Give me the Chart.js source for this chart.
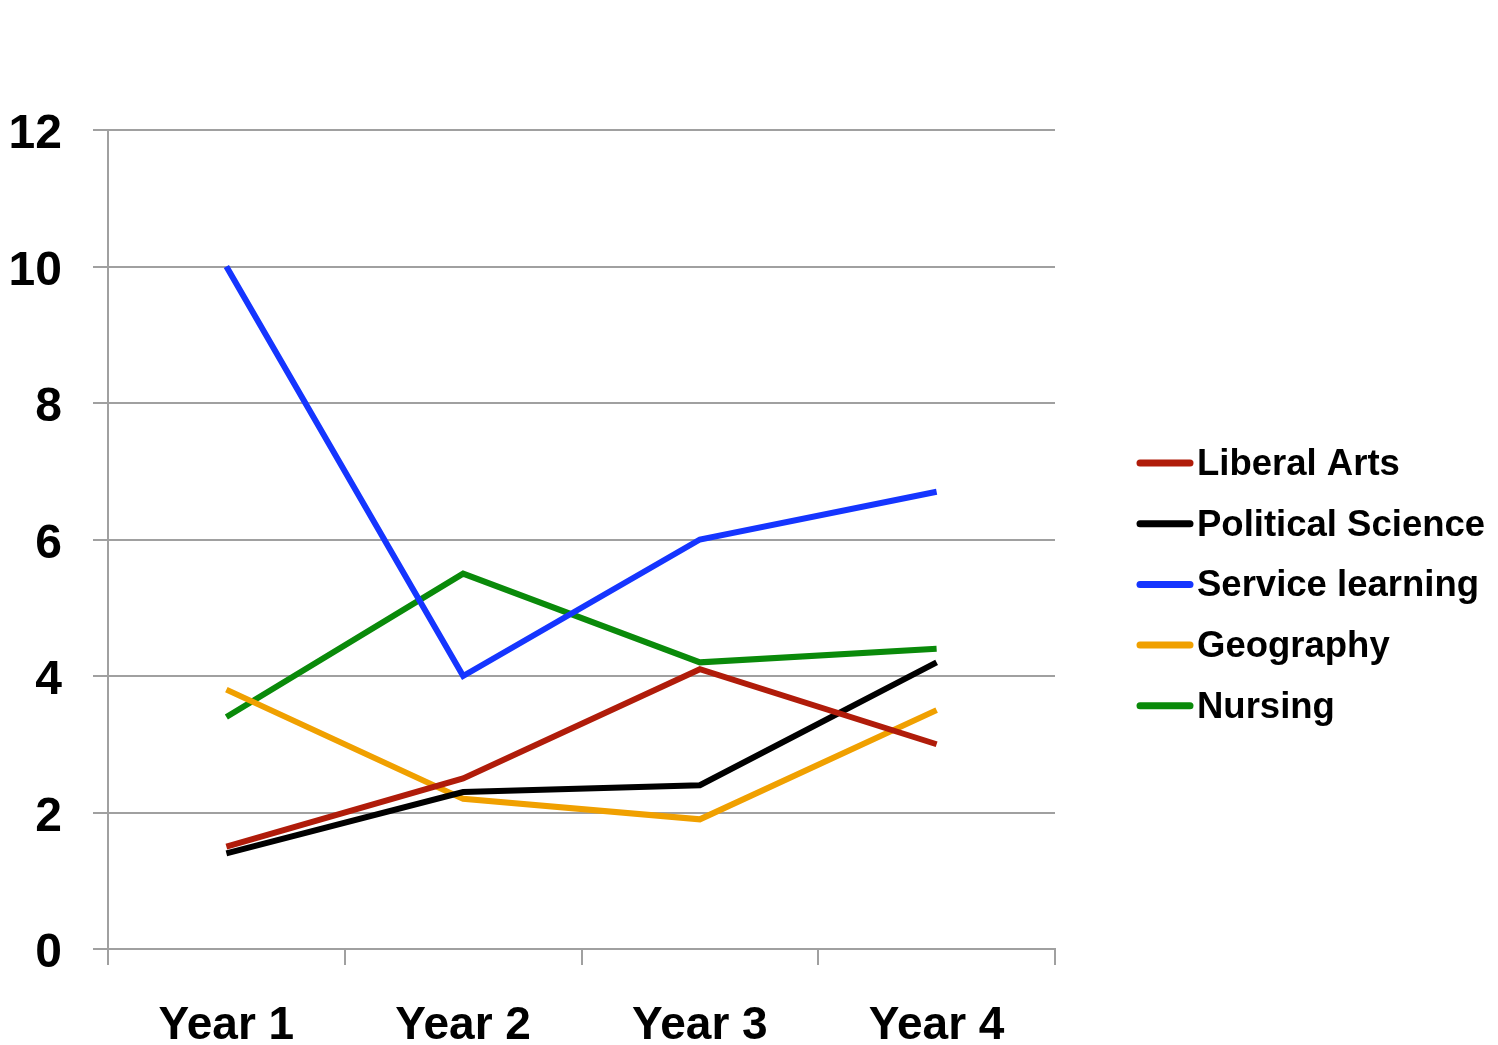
<!DOCTYPE html>
<html>
<head>
<meta charset="utf-8">
<script src="https://cdn.jsdelivr.net/npm/chart.js@4.4.0/dist/chart.umd.min.js"></script>
<style>
  html, body { margin: 0; padding: 0; background: #fff; }
  #wrap { width: 1498px; height: 1045px; }
</style>
</head>
<body>
<div id="wrap"><canvas id="chart"></canvas></div>
<script>
const years = ['Year 1', 'Year 2', 'Year 3', 'Year 4'];

const liberalArts = [1.5, 2.5, 4.1, 3.0];
const politicalScience = [1.4, 2.3, 2.4, 4.2];
const serviceLearning = [10, 4, 6, 6.7];
const geography = [3.8, 2.2, 1.9, 3.5];
const nursing = [3.4, 5.5, 4.2, 4.4];

const seriesNames = ['Liberal Arts', 'Political Science', 'Service learning', 'Geography', 'Nursing'];
const seriesColors = ['#b01c0a', '#000000', '#1535ff', '#f0a000', '#0a8a0a'];

const FONT = '"Liberation Sans", Arial, sans-serif';
const GRID = '#a0a0a0';

// legend drawn by hand so it sits where the original one does
const sideLegend = {
  id: 'sideLegend',
  afterDraw(chart) {
    const ctx = chart.ctx;
    ctx.save();
    chart.data.datasets.forEach((ds, i) => {
      const y = 463 + i * 60.7;
      ctx.strokeStyle = ds.borderColor;
      ctx.lineWidth = 7;
      ctx.lineCap = 'round';
      ctx.beginPath();
      ctx.moveTo(1140, y);
      ctx.lineTo(1190, y);
      ctx.stroke();
      ctx.fillStyle = '#000';
      ctx.font = 'bold 36.5px ' + FONT;
      ctx.textBaseline = 'middle';
      ctx.textAlign = 'left';
      ctx.fillText(ds.label, 1197, y + 2);
    });
    ctx.restore();
  },
};

const data = {
  labels: years,
  datasets: [liberalArts, politicalScience, serviceLearning, geography, nursing].map((values, i) => ({
    label: seriesNames[i],
    data: values,
    borderColor: seriesColors[i],
    backgroundColor: seriesColors[i],
    borderWidth: 6,
    pointRadius: 0,
    tension: 0,
  })),
};

const config = {
  type: 'line',
  data,
  options: {
    responsive: true,
    maintainAspectRatio: false,
    animation: false,
    layout: { padding: { top: 130, right: 443, left: 0, bottom: 0 } },
    plugins: {
      legend: { display: false },
      tooltip: { enabled: false },
    },
    scales: {
      x: {
        offset: true,
        afterFit: scale => { scale.height = 96; },
        grid: {
          offset: true,
          drawOnChartArea: false,
          color: GRID,
          lineWidth: 2,
          tickLength: 16,
        },
        border: { color: GRID, width: 2 },
        ticks: {
          color: '#000',
          padding: 34,
          font: { family: FONT, size: 46, weight: 'bold' },
        },
      },
      y: {
        min: 0,
        max: 12,
        afterFit: scale => { scale.width = 108; },
        grid: { color: GRID, lineWidth: 2, tickLength: 15 },
        border: { color: GRID, width: 2 },
        ticks: {
          stepSize: 2,
          color: '#000',
          padding: 31,
          labelOffset: 5,
          font: { family: FONT, size: 48, weight: 'bold' },
        },
      },
    },
  },
  plugins: [sideLegend],
};

new Chart(document.getElementById('chart'), config);
</script>
</body>
</html>
